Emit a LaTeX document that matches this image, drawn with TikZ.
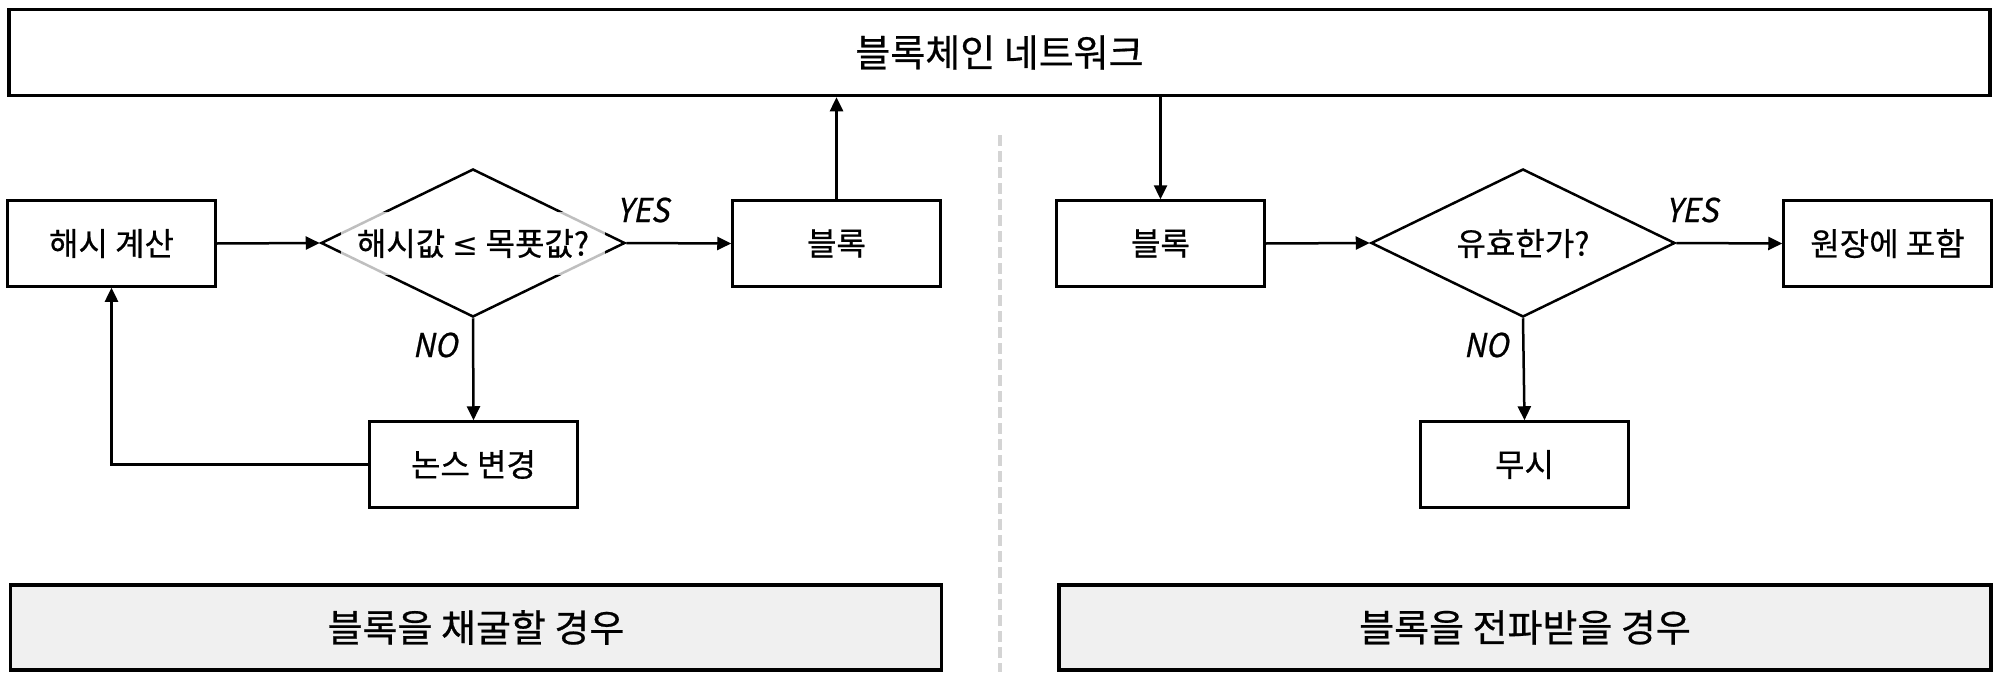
\documentclass[tikz,border=0pt]{standalone}
\usepackage{fontspec}
\setmainfont{Noto Sans CJK KR}[FakeBold=0.6]
\newfontfamily\yesfont{Noto Sans CJK KR}[FakeSlant=0.2,FakeStretch=0.92,FakeBold=0.6]
\newfontfamily\symfont{DejaVu Sans}
\usetikzlibrary{shapes.geometric,arrows.meta}
\definecolor{panelgray}{HTML}{F0F0F0}
\definecolor{divgray}{HTML}{D4D4D4}
\tikzset{
  box/.style={draw=black,line width=2.5pt,minimum width=208pt,minimum height=86pt,inner sep=0pt,font=\fontsize{32}{34}\selectfont},
  bigbox/.style={draw=black,line width=3.5pt,inner sep=0pt,font=\fontsize{38}{40}\selectfont},
  dia/.style={draw=black,line width=2.5pt,shape=diamond,minimum width=304pt,minimum height=148pt,inner sep=0pt},
  dtext/.style={inner sep=0pt,font=\fontsize{32}{34}\selectfont},
  lbl/.style={inner sep=0pt,font=\yesfont\fontsize{33}{35}\selectfont},
  arr/.style={line width=2.5pt,-{Triangle[length=14pt,width=13pt]}}
}
\begin{document}
\begin{tikzpicture}[x=1pt,y=-1pt]
\useasboundingbox (0,0) rectangle (2000,680);
% divider
\draw[divgray,line width=4pt,dash pattern=on 11pt off 5pt] (1000,135) -- (1000,672);
% top network box
\node[bigbox,minimum width=1981pt,minimum height=86pt] (net) at (999.5,52.5) {블록체인 네트워크};
% left side
\node[box] (hash) at (111.5,243.5) {해시 계산};
\node[dia] (d1) at (473,243) {};
\node[dtext,fill=white,fill opacity=0.75,text opacity=1,minimum width=264pt,minimum height=63pt] (d1t) at (473,243.5) {해시값 {\symfont\fontsize{31}{33}\selectfont ≤} 목푯값?};
\node[box] (blk1) at (836.5,243.5) {블록};
\node[box] (nonce) at (473.5,464.5) {논스 변경};
\node[lbl] (yes1) at (643,210) {YES};
\node[lbl] (no1) at (435,345) {NO};
\node[bigbox,fill=panelgray,minimum width=931pt,minimum height=85pt] (mine) at (476,627.5) {블록을 채굴할 경우};
\draw[arr] (hash.east) -- (d1.west);
\draw[arr] (d1.east) -- (blk1.west);
\draw[arr] (blk1.north) -- (blk1.north |- net.south);
\draw[arr] (d1.south) -- (nonce.north);
\draw[arr] (nonce.west) -| (hash.south);
% right side
\node[box] (blk2) at (1160.5,243.5) {블록};
\node[dia] (d2) at (1523,243) {};
\node[dtext] (d2t) at (1523,243.5) {유효한가?};
\node[box] (ledger) at (1887.5,243.5) {원장에 포함};
\node[box] (ignore) at (1524.5,464.5) {무시};
\node[lbl] (yes2) at (1692,210) {YES};
\node[lbl] (no2) at (1486,345) {NO};
\node[bigbox,fill=panelgray,minimum width=932pt,minimum height=85pt] (recv) at (1525,627.5) {블록을 전파받을 경우};
\draw[arr] (blk2.north |- net.south) -- (blk2.north);
\draw[arr] (blk2.east) -- (d2.west);
\draw[arr] (d2.east) -- (ledger.west);
\draw[arr] (d2.south) -- (ignore.north);
\end{tikzpicture}
\end{document}
